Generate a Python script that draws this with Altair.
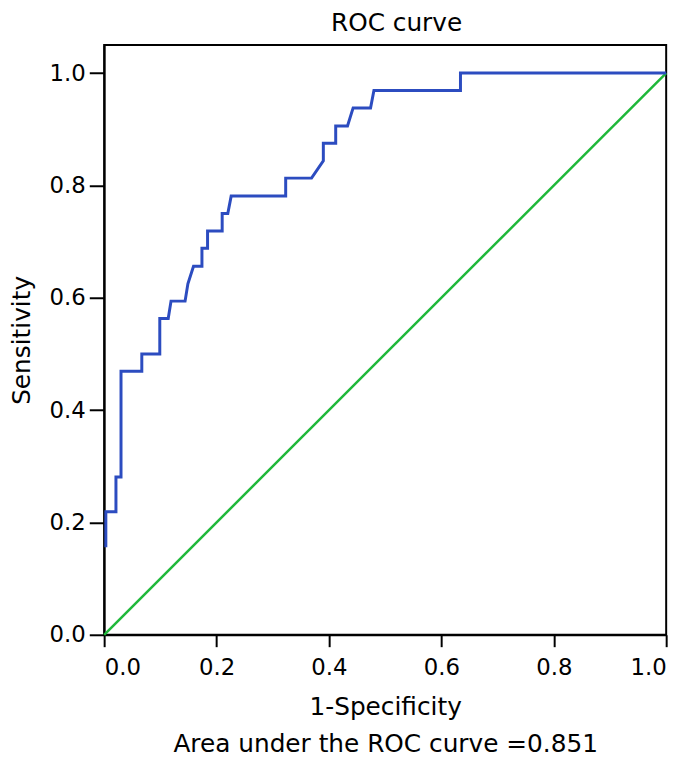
import altair as alt
import pandas as pd

# ROC curve corner points (1-Specificity, Sensitivity)
fpr = [0.003, 0.003, 0.021, 0.021, 0.030, 0.030, 0.067, 0.067, 0.099, 0.099,
       0.114, 0.119, 0.144, 0.149, 0.159, 0.174, 0.174, 0.184, 0.184, 0.210,
       0.210, 0.220, 0.226, 0.323, 0.323, 0.369, 0.390, 0.390, 0.412, 0.412,
       0.433, 0.443, 0.474, 0.480, 0.634, 0.634, 1.000]
tpr = [0.156, 0.219, 0.219, 0.281, 0.281, 0.469, 0.469, 0.500, 0.500, 0.563,
       0.563, 0.594, 0.594, 0.625, 0.656, 0.656, 0.688, 0.688, 0.719, 0.719,
       0.750, 0.750, 0.781, 0.781, 0.813, 0.813, 0.844, 0.875, 0.875, 0.906,
       0.906, 0.938, 0.938, 0.969, 0.969, 1.000, 1.000]

# Reference (chance) line
diag_x = [0.0, 1.0]
diag_y = [0.0, 1.0]

x_ticks = [0.0, 0.2, 0.4, 0.6, 0.8, 1.0]
y_ticks = [0.0, 0.2, 0.4, 0.6, 0.8, 1.0]

title_text = ["ROC curve"]
x_title = ["1-Specificity", "Area under the ROC curve =0.851"]
y_title = "Sensitivity"

roc = pd.DataFrame({"fpr": fpr, "tpr": tpr, "i": list(range(len(fpr)))})
diag = pd.DataFrame({"fpr": diag_x, "tpr": diag_y, "i": [0, 1]})
titles = pd.DataFrame({"t": title_text})

FONT = "DejaVu Sans"
BLUE = "#2c4cc0"
GREEN = "#1fb83a"

xscale = alt.Scale(domain=[0, 1], nice=False, zero=False)
yscale = alt.Scale(domain=[0, 1.05], nice=False, zero=False)

x_axis = alt.Axis(values=x_ticks, format=".1f", title=x_title, grid=False,
                  tickSize=12, labelPadding=10, titlePadding=15,
                  titleLineHeight=38, labelFontSize=23, titleFontSize=25)
y_axis = alt.Axis(values=y_ticks, format=".1f", title=y_title, grid=False,
                  tickSize=15, labelPadding=4, titlePadding=15,
                  labelFontSize=23, titleFontSize=25)

diag_layer = alt.Chart(diag).mark_line(color=GREEN, strokeWidth=2.5).encode(
    x=alt.X("fpr:Q", scale=xscale, axis=x_axis),
    y=alt.Y("tpr:Q", scale=yscale, axis=y_axis),
    order="i:Q",
)

roc_layer = alt.Chart(roc).mark_line(color=BLUE, strokeWidth=3,
                                     strokeJoin="miter").encode(
    x=alt.X("fpr:Q", scale=xscale),
    y=alt.Y("tpr:Q", scale=yscale),
    order="i:Q",
)

title_layer = alt.Chart(titles).mark_text(
    font=FONT, fontSize=25, color="black", align="center",
    baseline="alphabetic",
).encode(text="t:N", x=alt.value(295), y=alt.value(-14))

chart = alt.layer(diag_layer, roc_layer, title_layer).properties(
    width=567,
    height=595,
    autosize=alt.AutoSizeParams(type="none"),
    padding={"left": 97, "top": 34, "right": 20, "bottom": 124},
).configure_view(
    stroke="black", strokeWidth=2
).configure_axis(
    labelFont=FONT, titleFont=FONT, labelColor="black", titleColor="black",
    titleFontWeight="normal", domainColor="black", domainWidth=2,
    tickColor="black", tickWidth=2,
)

chart.save("out.html", embed_options={"renderer": "svg", "actions": False})
